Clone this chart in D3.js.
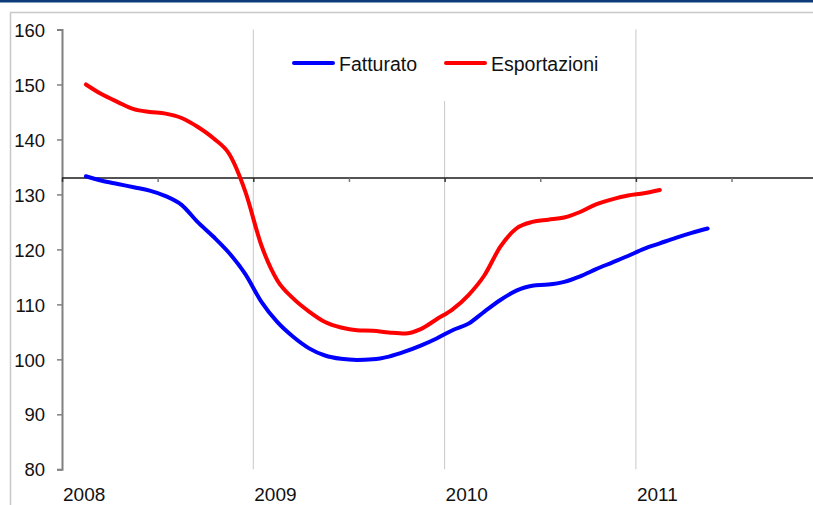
<!DOCTYPE html>
<html>
<head>
<meta charset="utf-8">
<script src="https://cdn.jsdelivr.net/npm/d3@7"></script>
<style>
  html, body { margin: 0; padding: 0; background: #fff; overflow: hidden; }
  svg { display: block; font-family: "Liberation Sans", Arial, sans-serif; }
</style>
</head>
<body>
<svg id="chart" width="813" height="505"></svg>
<script>
// Monthly indices, first observation February 2008
const fatturatoStart = "2008-02";
const fatturato = [
  133.3, 132.5, 131.9, 131.3, 130.7, 129.7, 128.1, 125.0, 122.3, 119.3,
  115.5, 110.5, 106.8, 104.1, 102.0, 100.7, 100.1, 99.9, 100.0, 100.5,
  101.4, 102.5, 103.8, 105.3, 106.5, 108.7, 110.8, 112.5, 113.4, 113.6,
  114.1, 115.1, 116.4, 117.6, 118.8, 120.1, 121.1, 122.1, 123.0, 123.8
];
const esportazioniStart = "2008-02";
const esportazioni = [
  150.0, 148.2, 146.8, 145.5, 145.0, 144.7, 143.9, 142.3, 140.2, 137.3,
  130.5, 120.8, 114.4, 111.1, 108.7, 106.8, 105.8, 105.3, 105.2, 104.9,
  104.7, 105.5, 107.3, 109.1, 111.7, 115.3, 120.5, 123.8, 125.0, 125.4,
  125.8, 126.8, 128.2, 129.1, 129.8, 130.2, 130.8
];
const seriesNames = ["Fatturato", "Esportazioni"];
const seriesColors = ["#0000ff", "#ff0000"];
const yTicks = [80, 90, 100, 110, 120, 130, 140, 150, 160];
const yearLabels = ["2008", "2009", "2010", "2011"];
const axisCrossing = 133;

const svg = d3.select("#chart");

// months since Jan 2008, centred within each month
function monthPos(start, i) {
  const [y, m] = start.split("-").map(Number);
  return (y - 2008) * 12 + (m - 1) + i + 0.5;
}
const toPoints = (start, vals) => vals.map((v, i) => ({ m: monthPos(start, i), v }));
const series = [
  { name: seriesNames[0], color: seriesColors[0], pts: toPoints(fatturatoStart, fatturato) },
  { name: seriesNames[1], color: seriesColors[1], pts: toPoints(esportazioniStart, esportazioni) }
];

const x = d3.scaleLinear().domain([0, 48]).range([62, 62 + 4 * 191.3]);
const y = d3.scaleLinear().domain([80, 160]).range([469.3, 29.5]);

// top rule and outer frame
svg.append("rect").attr("x", 0).attr("y", 0).attr("width", 813).attr("height", 2.5).attr("fill", "#0d3b7a");
svg.append("rect").attr("x", 10.5).attr("y", 12.5).attr("width", 900).attr("height", 600)
  .attr("fill", "none").attr("stroke", "#c8c8c8").attr("stroke-width", 1.5);

// vertical year gridlines
svg.append("g").selectAll("line").data([12, 24, 36]).join("line")
  .attr("x1", d => x(d)).attr("x2", d => x(d))
  .attr("y1", y(160)).attr("y2", y(80))
  .attr("stroke", "#c8c8c8").attr("stroke-width", 1);

// y axis
const yAxis = d3.axisLeft(y).tickValues(yTicks).tickSize(5).tickPadding(12);
const gy = svg.append("g").attr("transform", `translate(${x(0)},0)`).call(yAxis);
gy.select(".domain").attr("stroke", "#808080").attr("stroke-width", 2);
gy.selectAll(".tick line").attr("stroke", "#808080").attr("stroke-width", 1.5);
gy.selectAll(".tick text").attr("font-size", "18.5px").attr("fill", "#111")
  .attr("font-family", "Liberation Sans, Arial, sans-serif").attr("dy", "0.36em");

// x axis crossing at the set value
const xAxis = d3.axisBottom(x).tickValues(d3.range(0, 50, 6)).tickSize(4).tickFormat("");
const gx = svg.append("g").attr("transform", `translate(0,${y(axisCrossing)})`).call(xAxis);
gx.select(".domain").attr("stroke", "#1a1a1a").attr("stroke-width", 1.5).attr("d", `M${x(0)},0H820`);
gx.selectAll(".tick line").attr("stroke", d => d % 12 === 0 ? "#333" : "#777").attr("stroke-width", 1.5);

// year labels along the bottom
svg.append("g").selectAll("text").data(yearLabels).join("text")
  .attr("x", (d, i) => x(i * 12) + 1).attr("y", 501)
  .attr("font-size", "19px").attr("fill", "#111").text(d => d);

// series
const line = d3.line().x(d => x(d.m)).y(d => y(d.v)).curve(d3.curveMonotoneX);
svg.append("g").selectAll("path").data(series).join("path")
  .attr("d", d => line(d.pts)).attr("fill", "none")
  .attr("stroke", d => d.color).attr("stroke-width", 4)
  .attr("stroke-linejoin", "round").attr("stroke-linecap", "round");

// legend
const lg = svg.append("g");
lg.append("rect").attr("x", 286).attr("y", 29).attr("width", 330).attr("height", 72).attr("fill", "#fff");
const items = lg.selectAll("g").data(series).join("g")
  .attr("transform", (d, i) => `translate(${[294, 446][i]},63)`);
items.append("line").attr("x1", 0).attr("x2", 39).attr("y1", 0).attr("y2", 0)
  .attr("stroke", d => d.color).attr("stroke-width", 4).attr("stroke-linecap", "round");
items.append("text").attr("x", 45).attr("y", 8).attr("font-size", "19.5px")
  .attr("fill", "#111").text(d => d.name);
</script>
</body>
</html>
